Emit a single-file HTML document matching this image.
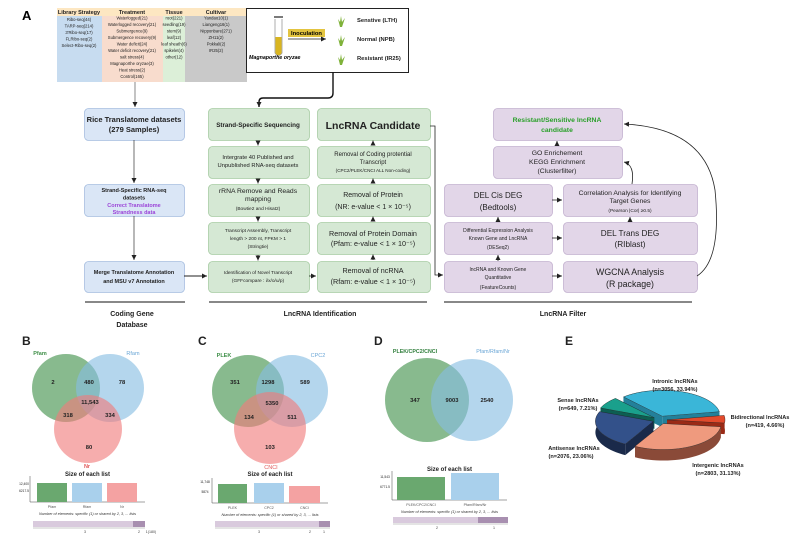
<!DOCTYPE html>
<html><head><meta charset="utf-8"><style>
html,body{margin:0;padding:0;background:#fff;}
svg{display:block;font-family:"Liberation Sans",Arial,sans-serif;}
</style></head><body>
<svg id="s" width="799" height="540" viewBox="0 0 799 540" xmlns="http://www.w3.org/2000/svg">
<defs>
<marker id="ah" markerWidth="6" markerHeight="6" refX="5" refY="3" orient="auto" markerUnits="userSpaceOnUse"><path d="M0,0.5 L5,3 L0,5.5 Z" fill="#222"/></marker>
</defs>
<text x="22" y="20" font-size="13" font-weight="bold">A</text>
<!-- table -->
<rect x="57" y="8" width="45" height="74" fill="#c7dcf0"/>
<rect x="102" y="8" width="61" height="74" fill="#f8dccd"/>
<rect x="163" y="8" width="22" height="74" fill="#dcefd8"/>
<rect x="185" y="8" width="62" height="74" fill="#c9c9c9"/>
<rect x="57" y="8" width="190" height="8" fill="#fde7c2"/>
<g font-size="5.5" font-weight="bold" text-anchor="middle" fill="#222">
<text x="79" y="14">Library Strategy</text><text x="132" y="14">Treatment</text><text x="174" y="14">Tissue</text><text x="216" y="14">Cultivar</text>
</g>
<g font-size="4.2" text-anchor="middle" fill="#222">
<text x="79" y="21">Ribo-seq(44)</text><text x="79" y="27.5">TARP-seq(214)</text><text x="79" y="34">3'Ribo-seq(17)</text><text x="79" y="40.5">FLRibo-seq(2)</text><text x="79" y="47">Select-Ribo-seq(2)</text>
<text x="132" y="19.5">Waterlogged(21)</text><text x="132" y="26">Waterlogged recovery(21)</text><text x="132" y="32.5">Submergence(9)</text><text x="132" y="39">Submergence recovery(9)</text><text x="132" y="45.5">Water deficit(24)</text><text x="132" y="52">Water deficit recovery(21)</text><text x="132" y="58.5">salt stress(4)</text><text x="132" y="65">Magnaporthe oryzae(3)</text><text x="132" y="71.5">Heat stress(2)</text><text x="132" y="78">Control(165)</text>
<text x="174" y="19.5">root(221)</text><text x="174" y="26">seedling(19)</text><text x="174" y="32.5">stem(9)</text><text x="174" y="39">leaf(12)</text><text x="174" y="45.5">leaf sheath(6)</text><text x="174" y="52">spikelet(4)</text><text x="174" y="58.5">other(12)</text>
<text x="216" y="19.5">Yandao10(1)</text><text x="216" y="26">Liangeng16(1)</text><text x="216" y="32.5">Nipponbare(271)</text><text x="216" y="39">ZH11(2)</text><text x="216" y="45.5">Pokkali(2)</text><text x="216" y="52">IR25(2)</text>
</g>
<!-- inoculation box -->
<rect x="246.5" y="8.5" width="162" height="64" fill="#fff" stroke="#222" stroke-width="1"/>
<line x1="274" y1="17" x2="283" y2="17" stroke="#222" stroke-width="1.2"/>
<path d="M275,19 L275,53 Q278.5,58 282,53 L282,19" fill="none" stroke="#999" stroke-width="0.8"/>
<path d="M275.4,37 L275.4,53 Q278.5,57.5 281.6,53 L281.6,37 Z" fill="#d9b520"/>
<rect x="288" y="29" width="37" height="8" fill="#e3c440"/>
<text x="306.5" y="35.2" font-size="5.8" font-weight="bold" text-anchor="middle">Inoculation</text>
<line x1="288" y1="39" x2="326" y2="39" stroke="#222" stroke-width="0.8" marker-end="url(#ah)"/>
<text x="249" y="59" font-size="5.3" font-weight="bold" font-style="italic">Magnaporthe oryzae</text>
<g fill="#7fb23a">
<path d="M340,27 L338,19 L340,22 L341,16 L342,22 L345,18 L342,27 Z"/>
<path d="M340,46 L338,38 L340,41 L341,35 L342,41 L345,37 L342,46 Z"/>
<path d="M340,65 L338,57 L340,60 L341,54 L342,60 L345,56 L342,65 Z"/>
</g>
<g font-size="5.8" font-weight="bold" fill="#222">
<text x="357" y="22">Senstive (LTH)</text><text x="357" y="41">Normal (NPB)</text><text x="357" y="60">Resistant (IR25)</text>
</g>
<!-- connectors top -->
<line x1="135" y1="82" x2="135" y2="107" stroke="#555" stroke-width="0.7" marker-end="url(#ah)"/>
<path d="M333,72 L333,93 Q333,98 328,98 L263,98 Q259,98 259,102 L259,107" fill="none" stroke="#111" stroke-width="1.4" marker-end="url(#ah)"/>
<g id="boxes"></g>
<g id="pie"></g>
</svg>
<script>
var s=document.getElementById('boxes');var NS='http://www.w3.org/2000/svg';
function el(t,a,p,txt){var e=document.createElementNS(NS,t);for(var k in a)e.setAttribute(k,a[k]);if(txt!==undefined)e.textContent=txt;(p||s).appendChild(e);return e;}
function box(x1,y1,x2,y2,f,st){el('rect',{x:x1+.5,y:y1+.5,width:x2-x1,height:y2-y1,rx:4,fill:f,stroke:st,'stroke-width':0.8});}
function tx(x,y,t,sz,o){o=o||{};var a={x:x,y:y,'font-size':sz,'text-anchor':'middle',fill:o.fill||'#222'};if(o.b)a['font-weight']='bold';if(o.i)a['font-style']='italic';if(o.a)a['text-anchor']=o.a;el('text',a,o.p,t);}
function ar(x1,y1,x2,y2,c,w){el('line',{x1:x1,y1:y1,x2:x2,y2:y2,stroke:c||'#333','stroke-width':w||0.7,'marker-end':'url(#ah)'});}
var B='#dae6f6',BS='#a8bfe0',G='#d5e8d4',GS='#a8cca4',P='#e2d6e8',PS='#c4b2d0';
var ys=[[108,140],[146,178],[184,216],[222,254],[261,292]];
// blue
box(84,108,184,140,B,BS);box(84,184,184,216,B,BS);box(84,261,184,292,B,BS);
tx(134,122,'Rice Translatome datasets',7.5,{b:1});tx(134,132,'(279 Samples)',7.5,{b:1});
tx(134,192,'Strand-Specific RNA-seq',5.5,{b:1});tx(134,199.5,'datasets',5.5,{b:1});tx(134,207,'Correct Translatome',5.5,{b:1,fill:'#9b44d8'});tx(134,214,'Strandness data',5.5,{b:1,fill:'#9b44d8'});
tx(134,274,'Merge Translatome Annotation',5.5,{b:1});tx(134,283,'and MSU v7 Annotation',5.5,{b:1});
ar(134,140,134,183);ar(134,216,134,260);ar(184,276,207,276,'#222',1);
// green
ys.forEach(function(y){box(208,y[0],309,y[1],G,GS);box(317,y[0],430,y[1],G,GS);});
tx(258,127,'Strand-Specific Sequencing',6.3,{b:1});
tx(258,159,'Intergrate 40 Published and',5.8);tx(258,167,'Unpublished RNA-seq datasets',5.8);
tx(258,193,'rRNA Remove and Reads',6.8);tx(258,201,'mapping',6.8);tx(258,210,'(Bowtie2 and Hisat2)',4.8);
tx(258,232,'Transcript Assembly, Transcript',4.8);tx(258,240,'length > 200 nt,  FPKM > 1',4.8);tx(258,248,'(Stringtie)',4.8);
tx(258,274,'Identification of Novel Transcript',4.8);tx(258,282,'(GFFcompare : i/x/o/u/p)',4.8);
tx(373,129,'LncRNA Candidate',10.5,{b:1});
tx(373,156,'Removal of Coding protential',6);tx(373,164,'Transcript',6);tx(373,172,'(CPC2/PLEK/CNCI ALL Non-coding)',4.6);
tx(373,197,'Removal of Protein',7);tx(373,209,'(NR: e-value < 1 × 10⁻⁵)',7);
tx(373,236,'Removal of Protein Domain',7.2);tx(373,246,'(Pfam: e-value < 1 × 10⁻⁵)',7.2);
tx(373,273,'Removal of ncRNA',7.2);tx(373,284,'(Rfam: e-value < 1 × 10⁻⁵)',7.2);
for(var i=0;i<4;i++){ar(258,ys[i][1]+1,258,ys[i+1][0]-0.5,'#222',0.8);ar(373,ys[i+1][0]-1,373,ys[i][1]+0.5,'#222',0.8);}
ar(309,276,316,276,'#222',0.8);
el('path',{d:'M430,126 L435,126 L435,275 L443,275',fill:'none',stroke:'#222','stroke-width':0.8,'marker-end':'url(#ah)'});
// purple
box(493,108,622,140,P,PS);box(493,146,622,178,P,PS);
box(444,184,552,216,P,PS);box(563,184,697,216,P,PS);
box(444,222,552,254,P,PS);box(563,222,697,254,P,PS);
box(444,261,552,292,P,PS);box(563,261,697,292,P,PS);
tx(557,122,'Resistant/Sensitive lncRNA',6.8,{b:1,fill:'#2aa02a'});tx(557,132,'candidate',6.8,{b:1,fill:'#2aa02a'});
tx(557,155,'GO Enrichement',6.8);tx(557,164,'KEGG Enrichment',6.8);tx(557,173,'(Clusterfilter)',6.8);
tx(498,198,'DEL Cis DEG',8);tx(498,210,'(Bedtools)',8);
tx(630,195,'Correlation Analysis for Identifying',6.8);tx(630,203,'Target Genes',6.8);tx(630,212,'(Pearson |Cor| ≥0.5)',4.8);
tx(498,232,'Differential Expression Analysis',5);tx(498,240,'Known Gene and LncRNA',5);tx(498,249,'(DESeq2)',5);
tx(630,236,'DEL Trans DEG',8.2);tx(630,247,'(RIblast)',8.2);
tx(498,271,'lncRNA and Known Gene',5);tx(498,279,'Quantitative',5);tx(498,289,'(FeatureCounts)',5);
tx(630,275,'WGCNA Analysis',8.8);tx(630,287,'(R package)',8.8);
ar(552,200,562,200,'#222',0.8);ar(552,238,562,238,'#222',0.8);ar(552,276,562,276,'#222',0.8);
ar(498,261,498,255,'#222',0.8);ar(498,222,498,217,'#222',0.8);ar(630,222,630,217,'#222',0.8);ar(557,146,557,141,'#222',0.8);
el('path',{d:'M632,184 Q635,165 624,162',fill:'none',stroke:'#222','stroke-width':0.8,'marker-end':'url(#ah)'});
el('path',{d:'M697,276 Q722,260 715,190 Q705,128 624,124',fill:'none',stroke:'#222','stroke-width':0.8,'marker-end':'url(#ah)'});
// section lines
el('line',{x1:85,y1:302,x2:185,y2:302,stroke:'#111','stroke-width':1});
el('line',{x1:209,y1:302,x2:427,y2:302,stroke:'#111','stroke-width':1});
el('line',{x1:444,y1:302,x2:692,y2:302,stroke:'#111','stroke-width':1});
tx(132,316,'Coding Gene',7,{b:1});tx(132,327,'Database',7,{b:1});tx(320,316,'LncRNA Identification',7,{b:1});tx(563,316,'LncRNA Filter',7,{b:1});
// Venn panels
tx(22,345,'B',12,{b:1,a:'start'});tx(198,345,'C',12,{b:1,a:'start'});tx(374,345,'D',12,{b:1,a:'start'});tx(565,345,'E',12,{b:1,a:'start'});
function c(x,y,r,f){el('circle',{cx:x,cy:y,r:r,fill:f,'fill-opacity':0.62});}
c(66,388,34,'#3f8f48');c(110,388,34,'#86bde2');c(88,429,34,'#f07a7a');
tx(40,355,'Pfam',5.5,{b:1,fill:'#3f8f48'});tx(133,355,'Rfam',5.5,{fill:'#6aa6d6'});tx(87,468,'Nr',5.5,{b:1,fill:'#e05a5a'});
[[53,384,'2'],[89,384,'480'],[122,384,'78'],[90,404,'11,543'],[68,417,'318'],[110,417,'334'],[89,449,'80']].forEach(function(a){tx(a[0],a[1],a[2],5.8,{b:1});});
c(248,391,36,'#3f8f48');c(292,391,36,'#86bde2');c(270,428,36,'#f07a7a');
tx(224,357,'PLEK',5.5,{b:1,fill:'#3f8f48'});tx(318,357,'CPC2',5.5,{fill:'#6aa6d6'});tx(271,469,'CNCI',5.5,{fill:'#e05a5a'});
[[235,384,'351'],[268,384,'1298'],[305,384,'589'],[272,405,'5350'],[249,419,'134'],[292,419,'511'],[270,449,'103']].forEach(function(a){tx(a[0],a[1],a[2],5.8,{b:1});});
c(427,400,42,'#3f8f48');c(472,400,41,'#86bde2');
tx(415,353,'PLEK/CPC2/CNCI',5.3,{b:1,fill:'#2e7d3a'});tx(493,353,'Pfam/Rfam/Nr',5.3,{fill:'#6aa6d6'});
tx(415,402,'347',5.8,{b:1});tx(452,402,'9003',5.8,{b:1});tx(487,402,'2540',5.8,{b:1});
// bar charts
function bars(ax,top,bot,list,title,ty,lab,bx1,bx2,bdark,by,nums){
 tx((ax+list[list.length-1][1])/2+4,ty,title,6,{b:1});
 el('line',{x1:ax,y1:top-6,x2:ax,y2:bot,stroke:'#444','stroke-width':0.5});
 el('line',{x1:ax,y1:bot,x2:list[list.length-1][1]+8,y2:bot,stroke:'#444','stroke-width':0.5});
 list.forEach(function(b){el('rect',{x:b[0],y:b[3],width:b[1]-b[0],height:bot-b[3],fill:b[2]});tx((b[0]+b[1])/2,bot+6,b[4],3.6,{fill:'#555'});});
 tx((ax+list[list.length-1][1])/2+4,bot+13,'Number of elements: specific (1) or shared by 2, 3, ... lists',3.8,{i:1,fill:'#333'});
 el('rect',{x:bx1,y:by,width:bx2-bx1,height:6,fill:'#d9cadd'});el('rect',{x:bdark,y:by,width:bx2-bdark,height:6,fill:'#a88fb0'});
 el('line',{x1:bx1,y1:by+7,x2:bx2,y2:by+7,stroke:'#777','stroke-width':0.4});
 nums.forEach(function(n){tx(n[0],by+12,n[1],3.6,{fill:'#444'});});
}
bars(30,482,502,[[37,67,'#6aa86f',483,'Pfam'],[72,102,'#a9d0ec',483,'Rfam'],[107,137,'#f4a2a2',483,'Nr']],'Size of each list',476,0,33,145,133,521,[[85,'3'],[139,'2'],[151,'1(180)']]);
tx(24,485,'12,400',3.2);tx(24,492,'6217.5',3.2);
bars(212,484,503,[[218,247,'#6aa86f',484,'PLEK'],[254,284,'#a9d0ec',483,'CPC2'],[289,320,'#f4a2a2',486,'CNCI']],'Size of each list',476,0,215,330,319,521,[[259,'3'],[310,'2'],[324,'1']]);
tx(205,483,'11,748',3.2);tx(205,493,'5874',3.2);
bars(392,477,500,[[397,445,'#6aa86f',477,'PLEK/CPC2/CNCI'],[451,499,'#a9d0ec',473,'Pfam/Rfam/Nr']],'Size of each list',471,0,393,508,478,517,[[437,'2'],[494,'1']]);
tx(385,478,'11,543',3.2);tx(385,488,'6771.5',3.2);
// pie
var pg=document.getElementById('pie');
var cx=660,cy=420,rx=58,ry=26,dep=11;
var sl=[[228,350,'#3ab6d8','#23809a'],[350,367,'#e24a2c','#9a2a16'],[367,479,'#ef9a7e','#8a4a38'],[479,562,'#33518a','#1a2a4a'],[562,588,'#1aa08c','#0d5e52']];
function pt(a,ox,oy,dy){var r=a*Math.PI/180;return [cx+ox+rx*Math.cos(r),cy+oy+ry*Math.sin(r)+(dy||0)];}
var order=sl.map(function(s,i){return i;}).sort(function(a,b){var ma=(sl[a][0]+sl[a][1])/2,mb=(sl[b][0]+sl[b][1])/2;return Math.sin(ma*Math.PI/180)-Math.sin(mb*Math.PI/180);});
order.forEach(function(i){var s=sl[i];var m=(s[0]+s[1])/2*Math.PI/180;var ox=7*Math.cos(m),oy=4*Math.sin(m);
 // side band
 var d='',d2='';var n=30;var top=[],bot=[];
 for(var k=0;k<=n;k++){var a=s[0]+(s[1]-s[0])*k/n;top.push(pt(a,ox,oy));bot.push(pt(a,ox,oy,dep));}
 var side='M'+top.map(function(p){return p.join(',');}).join(' L')+' L'+bot.reverse().map(function(p){return p.join(',');}).join(' L')+' Z';
 var c0=[cx+ox,cy+oy];
 el('path',{d:'M'+c0[0]+','+c0[1]+' L'+c0[0]+','+(c0[1]+dep)+' L'+pt(s[0],ox,oy,dep).join(',')+' L'+pt(s[0],ox,oy).join(',')+' Z',fill:s[3]},pg);
 el('path',{d:'M'+c0[0]+','+c0[1]+' L'+c0[0]+','+(c0[1]+dep)+' L'+pt(s[1],ox,oy,dep).join(',')+' L'+pt(s[1],ox,oy).join(',')+' Z',fill:s[3]},pg);
 el('path',{d:side,fill:s[3]},pg);
 var tp='M'+c0.join(',')+' L'+top.map(function(p){return p.join(',');}).join(' L')+' Z';
 el('path',{d:tp,fill:s[2],stroke:'#222','stroke-width':0.4},pg);
});
function lt(x,y,t){tx(x,y,t,5.6,{b:1,p:pg});}
lt(675,383,'Intronic lncRNAs');lt(675,391,'(n=3056, 33.94%)');
lt(578,402,'Sense lncRNAs');lt(578,410,'(n=649, 7.21%)');
lt(760,419,'Bidirectional lncRNAs');lt(765,427,'(n=419, 4.66%)');
lt(574,450,'Antisense lncRNAs');lt(571,458,'(n=2076, 23.06%)');
lt(718,467,'Intergenic lncRNAs');lt(718,475,'(n=2803, 31.13%)');
</script>
</body></html>
